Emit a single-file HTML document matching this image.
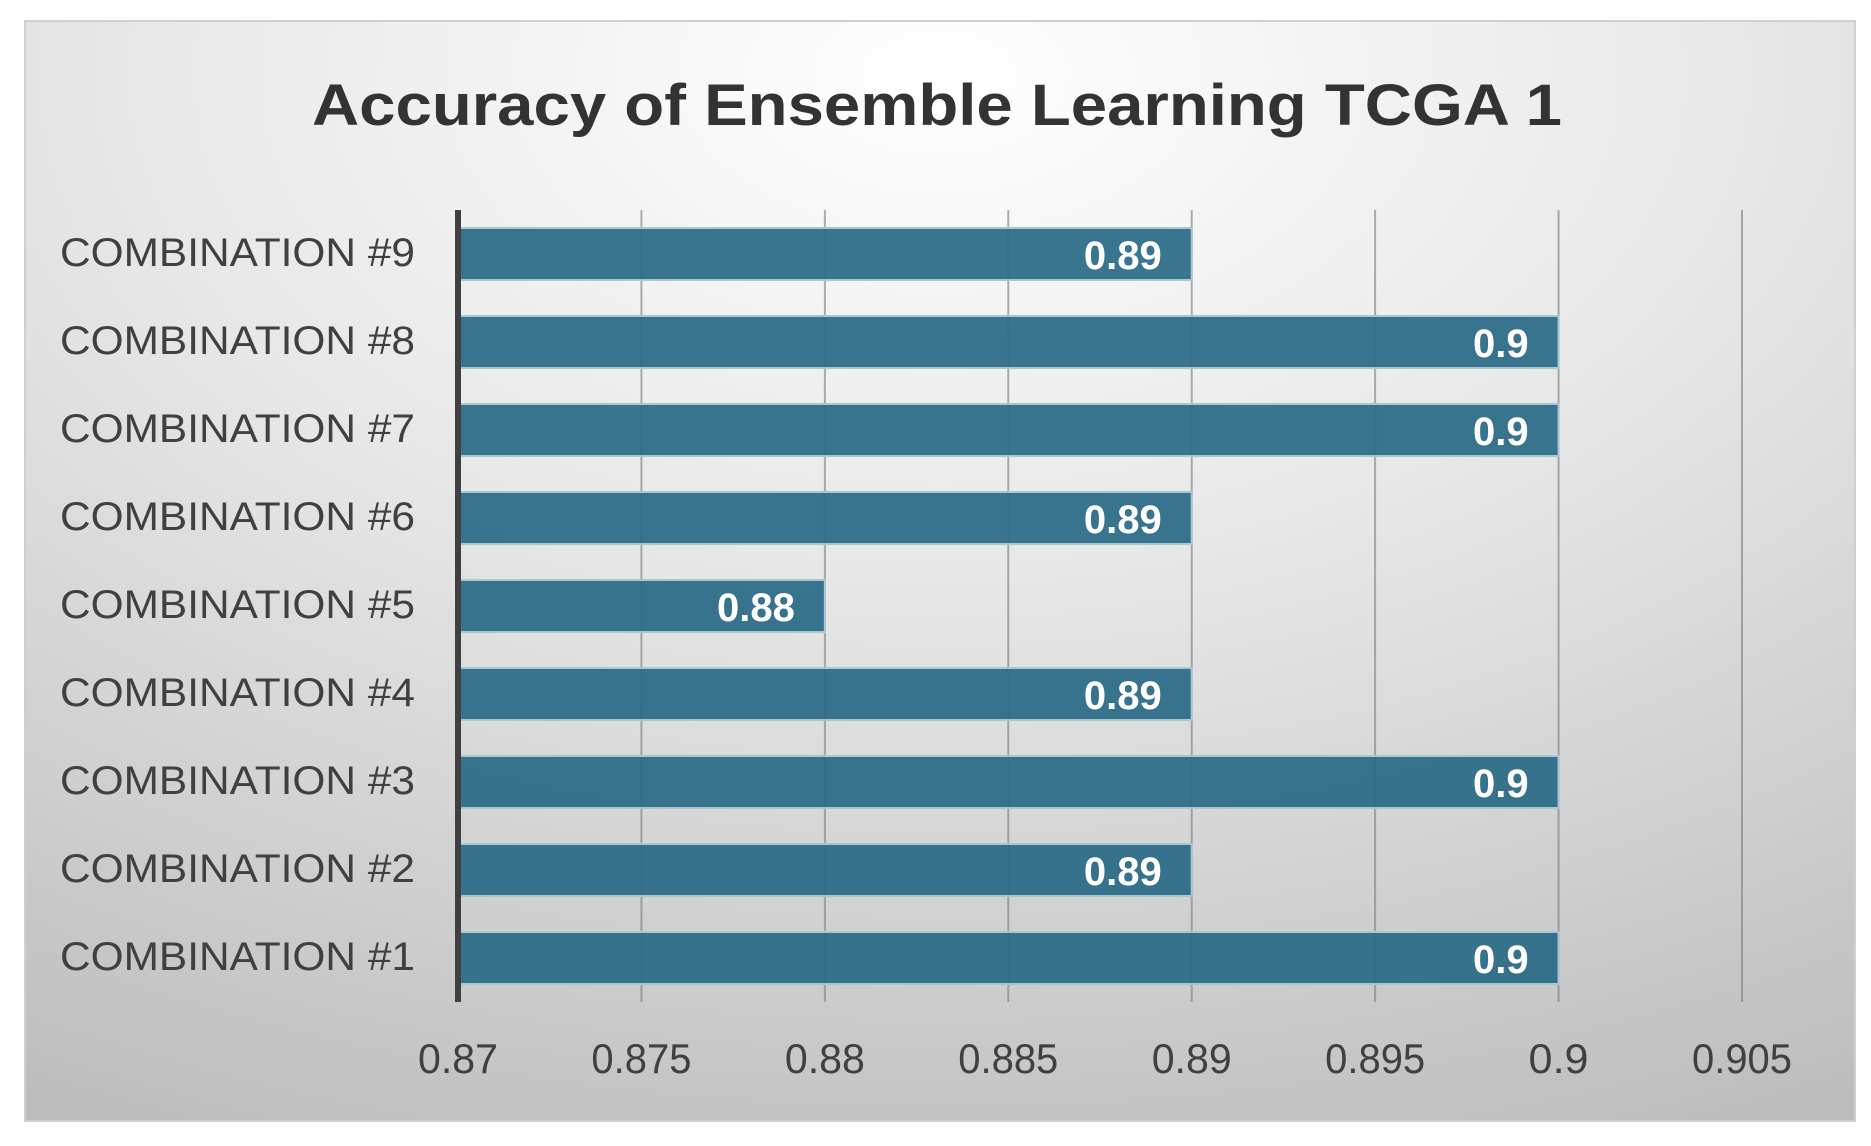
<!DOCTYPE html>
<html><head><meta charset="utf-8"><style>
html,body{margin:0;padding:0;background:#fff;}
svg{display:block;font-family:"Liberation Sans",sans-serif;}
</style></head><body>
<svg id="chart" width="1871" height="1146" viewBox="0 0 1871 1146">
<defs>
<radialGradient id="bg" cx="0.5" cy="0.05" r="1.05" gradientUnits="objectBoundingBox">
<stop offset="0" stop-color="#ffffff"/>
<stop offset="0.45" stop-color="#e6e6e6"/>
<stop offset="1" stop-color="#bdbdbd"/>
</radialGradient>
</defs>
<rect x="25" y="21" width="1830" height="1100" fill="url(#bg)" stroke="#cfcfcf" stroke-width="2"/>
<text x="937" y="125" text-anchor="middle" font-size="58" font-weight="bold" fill="#333" textLength="1250" lengthAdjust="spacingAndGlyphs">Accuracy of Ensemble Learning TCGA 1</text>
<g id="grid"></g><g id="bars"></g><g id="labels"></g>
</svg>
<script>
const categories = ["COMBINATION #1","COMBINATION #2","COMBINATION #3","COMBINATION #4","COMBINATION #5","COMBINATION #6","COMBINATION #7","COMBINATION #8","COMBINATION #9"];
const values = [0.9,0.89,0.9,0.89,0.88,0.89,0.9,0.9,0.89];
const valueLabels = ["0.9","0.89","0.9","0.89","0.88","0.89","0.9","0.9","0.89"];
const ticks = [0.87,0.875,0.88,0.885,0.89,0.895,0.9,0.905];
const tickLabels = ["0.87","0.875","0.88","0.885","0.89","0.895","0.9","0.905"];

const NS="http://www.w3.org/2000/svg";
const xMin=0.87,xMax=0.905,x0=458,x1=1742,plotTop=210,plotBot=1002;
function xs(v){return x0+(v-xMin)/(xMax-xMin)*(x1-x0);}
const pitch=(plotBot-plotTop)/categories.length;
function yc(i){return plotBot-pitch*(i+0.5);}
function mk(tag,attrs,parent){const e=document.createElementNS(NS,tag);for(const k in attrs)e.setAttribute(k,attrs[k]);parent.appendChild(e);return e;}
const grid=document.getElementById('grid'),bars=document.getElementById('bars'),labels=document.getElementById('labels');
ticks.forEach((t,i)=>{
  if(i>0){const l=mk('line',{x1:xs(t),x2:xs(t),y1:plotTop,y2:plotBot,stroke:'#7a7a7a','stroke-opacity':0.6,'stroke-width':2},grid);
  
  }
  const tx=mk('text',{x:xs(t),y:1073,'text-anchor':'middle','font-size':42,fill:'#404040',textLength:tickLabels[i].length*20,lengthAdjust:'spacingAndGlyphs'},labels);
  tx.textContent=tickLabels[i];
  
  
});
categories.forEach((c,i)=>{
  const y=yc(i),h=52;
  const r=mk('rect',{x:xs(xMin),y:y-h/2,width:xs(values[i])-xs(xMin),height:h,fill:'#2b6a88','fill-opacity':0.93,stroke:'#a9c6d3','stroke-width':2},bars);
  
  
  const v=mk('text',{x:xs(values[i])-30,y:y+15,'text-anchor':'end','font-size':40,'font-weight':'bold',fill:'#fff'},labels);
  v.textContent=valueLabels[i];
  
  
  const t=mk('text',{x:415,y:y+12,'text-anchor':'end','font-size':40,fill:'#404040',textLength:355,lengthAdjust:'spacingAndGlyphs'},labels);
  t.textContent=c;
  
  
});
const ax=mk('line',{x1:x0,x2:x0,y1:plotTop,y2:plotBot,stroke:'#404040','stroke-width':6},labels);


</script>
</body></html>
